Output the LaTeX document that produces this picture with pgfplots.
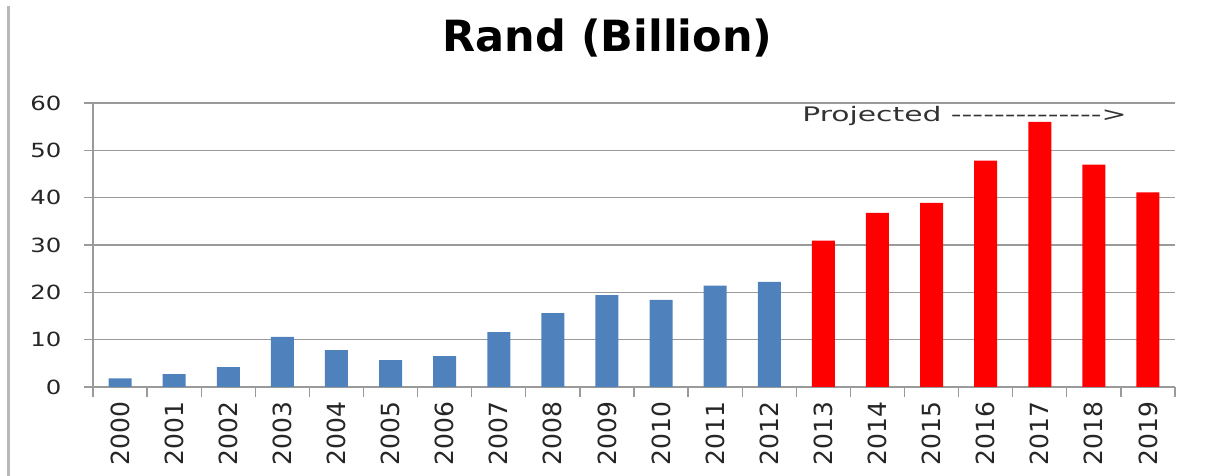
\documentclass[border=0pt]{standalone}
\usepackage{pgfplots}
\pgfplotsset{compat=1.18}
\usepackage{fontspec}
\setmainfont{DejaVu Sans}
\newfontfamily\widefont[FakeStretch=1.25]{DejaVu Sans}
\definecolor{barblue}{HTML}{4F81BD}
\definecolor{barred}{HTML}{FF0000}
\definecolor{gridgray}{HTML}{9A9A9A}
\begin{document}
\begin{tikzpicture}
\useasboundingbox (0,0) rectangle (1207pt,476pt);
\draw[draw=black!28, line width=3pt] (8.5pt,0) -- (8.5pt,470pt);
\begin{axis}[
  at={(93pt,89pt)}, anchor=south west,
  scale only axis, width=1082pt, height=284pt,
  xmin=-0.5, xmax=19.5, ymin=0, ymax=60,
  /pgf/number format/assume math mode=true,
  ytick={0,10,...,60},
  xtick={0,...,19},
  xticklabels={2000,2001,2002,2003,2004,2005,2006,2007,2008,2009,2010,2011,2012,2013,2014,2015,2016,2017,2018,2019},
  minor xtick={-0.5,0.5,...,19.5},
  axis x line=bottom, axis y line=left,
  xtick pos=bottom, ytick pos=left,
  axis line style={gridgray, line width=1.3pt, -},
  ymajorgrids, xmajorgrids=false, xminorgrids=false,
  grid style={gridgray, line width=1.3pt},
  major x tick style={draw=none},
  tick align=outside,
  major tick length=9pt, minor tick length=10pt,
  minor x tick style={gridgray, line width=1.3pt},
  y tick style={gridgray, line width=1.3pt},
  yticklabel shift=19pt,
  yticklabel style={font=\widefont\fontsize{19.5}{20}\selectfont, color=black!85},
  xticklabel style={font=\fontsize{25}{25}\selectfont, color=black!85, rotate=90, anchor=east, xshift=-2pt},
  ybar, bar width=23pt,
]
\addplot[draw=none, fill=barblue, bar shift=0pt] coordinates {
  (0,1.8) (1,2.7) (2,4.2) (3,10.6) (4,7.8) (5,5.7) (6,6.5) (7,11.6)
  (8,15.6) (9,19.4) (10,18.4) (11,21.4) (12,22.2)};
\addplot[draw=none, fill=barred, bar shift=0pt] coordinates {
  (13,30.9) (14,36.8) (15,38.9) (16,47.8) (17,56.0) (18,47.0) (19,41.1)};
\end{axis}
\node[font=\bfseries\fontsize{43}{43}\selectfont, anchor=base, inner sep=0] at (607.5pt,424pt) {Rand (Billion)};
\node[font=\fontsize{20}{20}\selectfont, xscale=1.49, anchor=base west, inner sep=0, color=black!80] at (802pt,354pt) {Projected -{}-{}-{}-{}-{}-{}-{}-{}-{}-{}-{}-{}-{}->};
\end{tikzpicture}
\end{document}
